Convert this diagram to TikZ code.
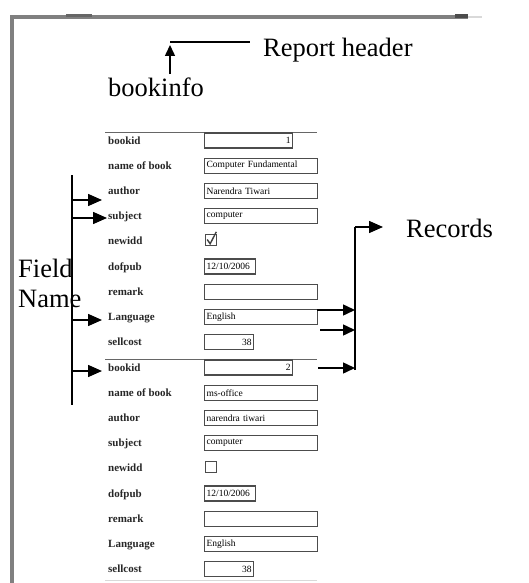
\documentclass[tikz,border=0pt]{standalone}
\usepackage{fontspec}
\setmainfont{Liberation Serif}
\usetikzlibrary{arrows.meta}

% One record of the bookinfo report:
% #1 prefix, #2 y of first row, #3 id, #4 title, #5 author, #6 subject,
% #7 new-edition flag (1/0), #8 date of publication, #9 language
\newcommand\bookrecord[9]{%
  \draw[rule] (105,#2-8.5) -- (317,#2-8.5);
  \foreach \lab [count=\i from 0] in {bookid,name of book,author,subject,newidd,dofpub,remark,Language,sellcost}
    \node[fieldlab] (#1-l\i) at (108,#2+25.2*\i+3.6) {\lab};
  \node[inbox, text width=84pt, align=right] (#1-v0) at (204,#2) {#3};
  \node[inbox, text width=109pt, align=left] (#1-v1) at (204,#2+25.2) {#4};
  \node[inbox, text width=109pt, align=left] (#1-v2) at (204,#2+50.4) {#5};
  \node[inbox, text width=109pt, align=left] (#1-v3) at (204,#2+75.6) {#6};
  \node[cbox] (#1-v4) at (205,#2+99.5) {};
  \ifnum#7=1
    \draw[tick] ([shift={(2.2pt,0.5pt)}]#1-v4.west) -- ([shift={(-1pt,-3.8pt)}]#1-v4.center)
      -- ([shift={(-1pt,2pt)}]#1-v4.north east);
  \fi
  \node[inbox, text width=47pt, align=left] (#1-v5) at (204,#2+126) {#8};
  \node[inbox, text width=109pt, align=left] (#1-v6) at (204,#2+151.2) {};
  \node[inbox, text width=109pt, align=left] (#1-v7) at (204,#2+176.4) {#9};
  \node[inbox, text width=45pt, align=right] (#1-v8) at (204,#2+201.6) {38};
}

\begin{document}
\begin{tikzpicture}[x=1pt,y=-1pt,
  big/.style={font=\fontsize{26.5}{30}\selectfont, inner sep=0pt},
  fieldlab/.style={font=\fontsize{11}{12}\selectfont\bfseries, inner sep=0pt,
    anchor=base west, text=black!85},
  inbox/.style={draw=black!70, line width=1.3pt, anchor=west, inner xsep=2pt,
    inner ysep=0pt, minimum height=15pt, font=\fontsize{9.5}{11}\selectfont},
  cbox/.style={draw=black!70, line width=1.3pt, anchor=west, inner sep=0pt,
    minimum size=11pt},
  tick/.style={line width=1.4pt, black!75},
  rule/.style={line width=1pt, black!60},
  frameline/.style={line width=4.5pt, black!50},
  spine/.style={line width=1.5pt},
  arr/.style={line width=1.5pt, -{Triangle[length=14pt,width=12pt]}},
  arrs/.style={line width=1.5pt, -{Triangle[length=12pt,width=11pt]}},
]
\useasboundingbox (0,0) rectangle (529,583);

% page frame
\draw[frameline] (12,583) -- (12,17) -- (468,17);
\draw[line width=2pt, black!15] (468,17) -- (482,17);
\fill[black!60] (66,14.5) rectangle (92,17.5);
\fill[black!70] (455,14) rectangle (468,18);

% report header
\node[big, anchor=base west] (hdr) at (263,56.5) {Report header};
\node[big, anchor=base west] (bookinfo) at (108,97) {bookinfo};
\coordinate (hdrL) at (170,42);
\draw[line width=1.5pt] (hdrL) -- ([xshift=-13pt]hdrL -| hdr.west);
\draw[line width=1.5pt, -{Triangle[length=11pt,width=10pt]}]
  ([yshift=4pt]bookinfo.north -| hdrL) -- ([yshift=-3pt]hdrL);

% records
\bookrecord{r1}{140.5}{1}{Computer Fundamental}{Narendra Tiwari}{computer}{1}{12/10/2006}{English}
\bookrecord{r2}{367.5}{2}{ms-office}{narendra tiwari}{computer}{0}{12/10/2006}{English}
\draw[line width=0.6pt, black!15] (105,580) -- (317,580);

% field name bracket
\node[big, anchor=base west] (fname1) at (18,277) {Field};
\node[big, anchor=base west] (fname2) at (18,307) {Name};
\coordinate (fnT) at (72,175);
\coordinate (fnB) at (72,405);
\draw[spine] (fnT) -- (fnB);
\coordinate (fa1) at (72,200);
\coordinate (fa2) at (72,218);
\coordinate (fa3) at (72,320);
\coordinate (fa4) at (72,371);
\draw[arr] (fa1) -- ([xshift=-6pt]fa1 -| r1-l2.west);
\draw[arr] (fa2) -- ([xshift=-1pt]fa2 -| r1-l3.west);
\draw[arr] (fa3) -- ([xshift=-6pt]fa3 -| r1-l7.west);
\draw[arr] (fa4) -- ([xshift=-6pt]fa4 -| r2-l0.west);

% records bracket
\node[big, anchor=base west] (records) at (406,237) {Records};
\coordinate (rsT) at (355,227);
\coordinate (rsB) at (355,370);
\draw[spine] (rsB) -- (rsT);
\draw[arr] (rsT) -- ([xshift=-23pt]rsT -| records.west);
\coordinate (ri1) at (317,310);
\coordinate (ri2) at (320,330);
\coordinate (ri3) at (318,368);
\draw[arrs] (ri1) -- (ri1 -| rsT);
\draw[arrs] (ri2) -- (ri2 -| rsT);
\draw[arrs] (ri3) -- (ri3 -| rsT);
\end{tikzpicture}
\end{document}
